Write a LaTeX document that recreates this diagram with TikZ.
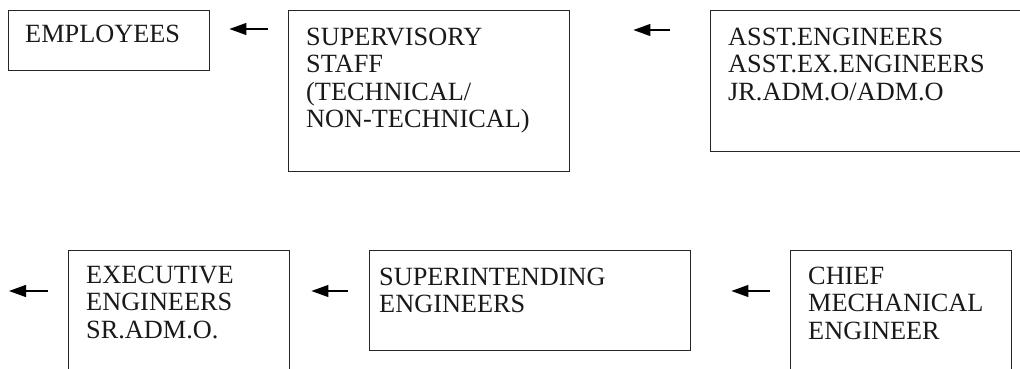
\documentclass[tikz,border=0pt]{standalone}
\usepackage{fontspec}
\setmainfont{Liberation Serif}
\usetikzlibrary{arrows.meta,calc}
\begin{document}
\begin{tikzpicture}[x=1pt,y=-1pt,
  box/.style={draw=black!85, line width=1.4pt, rectangle, inner sep=0pt, anchor=north west},
  txt/.style={inner sep=0pt, anchor=base west, align=left,
    font=\fontsize{26.3pt}{27.6pt}\selectfont, text=black!90},
  arr/.style={draw=black, line width=1.2pt, -{Triangle[length=17pt,width=12pt]}}]
\useasboundingbox (0,0) rectangle (1020,369);
\clip (0,0) rectangle (1020,369);
% boxes
\node[box, minimum width=201pt, minimum height=60pt] (emp) at (8,10) {};
\node[box, minimum width=281pt, minimum height=161pt] (sup) at (288,10) {};
\node[box, minimum width=330pt, minimum height=141pt] (asst) at (710,10) {};
\node[box, minimum width=221pt, minimum height=140pt] (exec) at (68,250) {};
\node[box, minimum width=321pt, minimum height=100pt] (supt) at (369,250) {};
\node[box, minimum width=221pt, minimum height=140pt] (chief) at (790,250) {};
% texts (anchor = baseline of last line)
\node[txt] (tEmp) at (25,43) {EMPLOYEES};
\node[txt] (tSup) at (306,127.8) {SUPERVISORY\\STAFF\\(TECHNICAL/\\NON-TECHNICAL)};
\node[txt] (tAsst) at (728,100.2) {ASST.ENGINEERS\\ASST.EX.ENGINEERS\\JR.ADM.O/ADM.O};
\node[txt] (tExec) at (86,338.2) {EXECUTIVE\\ENGINEERS\\SR.ADM.O.};
\node[txt] (tSupt) at (379,312.6) {SUPERINTENDING\\ENGINEERS};
\node[txt] (tChief) at (808,339.2) {CHIEF\\MECHANICAL\\ENGINEER};
% connectors
\coordinate (a1) at ($(sup.north west)+(0,19)$);
\draw[arr, shorten <=20pt, shorten >=19pt] (a1) -- (emp.east |- a1);
\coordinate (a2) at ($(asst.north west)+(0,20)$);
\draw[arr, shorten <=40pt, shorten >=63pt] (a2) -- (sup.east |- a2);
\coordinate (b1) at ($(exec.north west)+(0,41)$);
\coordinate (bend) at (9,291);
\draw[arr, shorten <=20pt] (b1) -- (bend);
\coordinate (b2) at ($(supt.north west)+(0,41)$);
\draw[arr, shorten <=21pt, shorten >=21pt] (b2) -- (exec.east |- b2);
\coordinate (b3) at ($(chief.north west)+(0,41)$);
\draw[arr, shorten <=20pt, shorten >=40pt] (b3) -- (supt.east |- b3);
\end{tikzpicture}
\end{document}
